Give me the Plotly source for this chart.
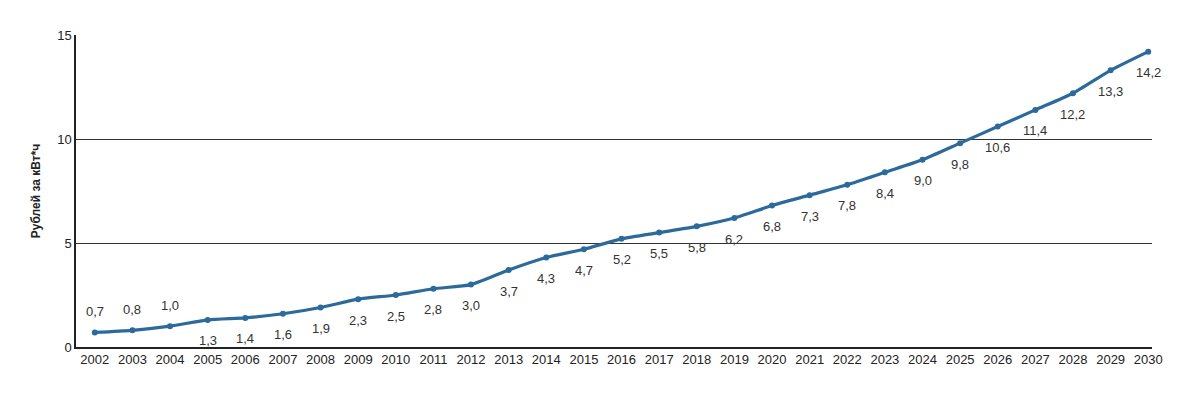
import plotly.graph_objects as go

years = list(range(2002, 2031))
values = [0.7, 0.8, 1.0, 1.3, 1.4, 1.6, 1.9, 2.3, 2.5, 2.8, 3.0, 3.7, 4.3, 4.7, 5.2,
          5.5, 5.8, 6.2, 6.8, 7.3, 7.8, 8.4, 9.0, 9.8, 10.6, 11.4, 12.2, 13.3, 14.2]
labels = [f"{v:.1f}".replace(".", ",") for v in values]
label_above = [True] * 3 + [False] * (len(values) - 3)

fig = go.Figure()
fig.add_trace(go.Scatter(
    x=years, y=values, mode="lines+markers",
    line=dict(color="#2b6a9b", width=3.2, shape="spline", smoothing=0.6),
    marker=dict(color="#2b6a9b", size=6),
    showlegend=False,
))

for x, y, t, above in zip(years, values, labels, label_above):
    fig.add_annotation(x=x, y=y, text=t, showarrow=False,
                       yshift=21 if above else -21,
                       font=dict(family="Liberation Sans, Arial", size=13, color="#333333"))

fig.update_layout(
    width=1200, height=399,
    margin=dict(l=68, r=56, t=27, b=60),
    paper_bgcolor="white", plot_bgcolor="white",
    font=dict(family="Liberation Sans, Arial", size=13, color="#222222"),
    xaxis=dict(
        range=[2001.5, 2030.1], tickmode="linear", dtick=1, tick0=2002,
        showgrid=False, zeroline=False, showline=True, linecolor="#222222", linewidth=1.5,
        ticks="", tickfont=dict(size=13),
    ),
    yaxis=dict(
        range=[0, 15], tickvals=[0, 5, 10, 15], showgrid=True, gridcolor="#333333", gridwidth=1,
        zeroline=False, showline=True, linecolor="#222222", linewidth=1.5, ticks="",
        tickfont=dict(size=13),
        title=dict(text="<b>Рублей за кВт*ч</b>", font=dict(size=12), standoff=14),
    ),
)

fig.write_html("out.html")
